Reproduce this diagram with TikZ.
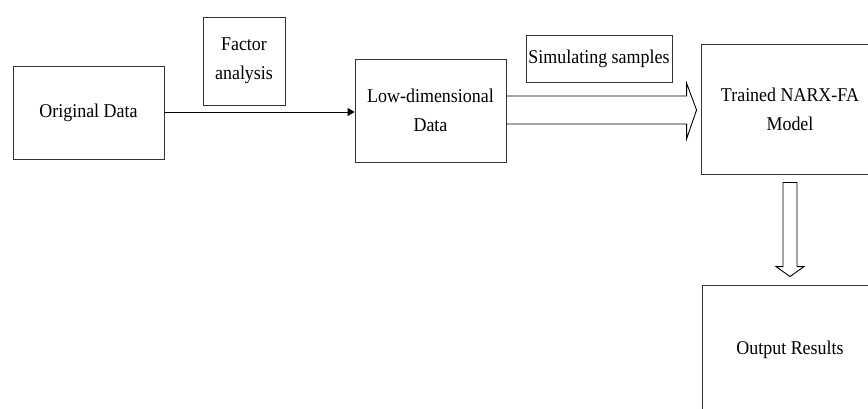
\documentclass[tikz,border=0pt]{standalone}
\usepackage{fontspec}
\setmainfont[FakeStretch=0.92]{Liberation Serif}
\usepackage{tikz}
\usetikzlibrary{arrows.meta, calc}

\begin{document}
\begin{tikzpicture}[x=1pt, y=-1pt,
    box/.style={draw=black!80, line width=0.9pt, inner sep=0pt, align=center,
                font=\fontsize{19.5}{29}\selectfont},
    hollow/.style={draw=black, line width=0.9pt}]
    \useasboundingbox (0,0) rectangle (868,408);
    \clip (0,0) rectangle (868,408);
    % Nodes
    \node[box, minimum width=151pt, minimum height=93pt] (orig) at (88.5,112.5) {Original Data};
    \node[box, minimum width=82pt, minimum height=88pt] (fa) at (244,61) {Factor\\analysis};
    \node[box, minimum width=151pt, minimum height=103pt] (low) at (430.5,110.5) {Low-dimensional\\Data};
    \node[box, minimum width=146pt, minimum height=47pt] (sim) at (599,58.5) {Simulating samples};
    \node[box, minimum width=178pt, minimum height=130pt] (narx) at (790,109) {Trained NARX-FA\\Model};
    \node[box, minimum width=176pt, minimum height=130pt] (out) at (790,350) {Output Results};
    % Connections
    \draw[line width=0.9pt, -{Triangle[length=7pt, width=8pt]}] (orig.east |- 0,112) -- (low.west |- 0,112);
    \draw[hollow] ($(low.east)+(0,-14.5)$) -- ($(narx.west)+(-14,-13)$) -- ++(0,-13)
        -- ($(narx.west)+(-4,1)$) -- ($(narx.west)+(-14,30)$) -- ++(0,-15) -- ($(low.east)+(0,13.5)$);
    \draw[hollow] ($(narx.south)+(-7,8)$) -- ++(14,0) -- ($(out.north)+(7,-18)$) -- ++(7,0)
        -- ($(out.north)+(0,-8)$) -- ($(out.north)+(-14,-18)$) -- ++(7,0) -- cycle;
\end{tikzpicture}
\end{document}
